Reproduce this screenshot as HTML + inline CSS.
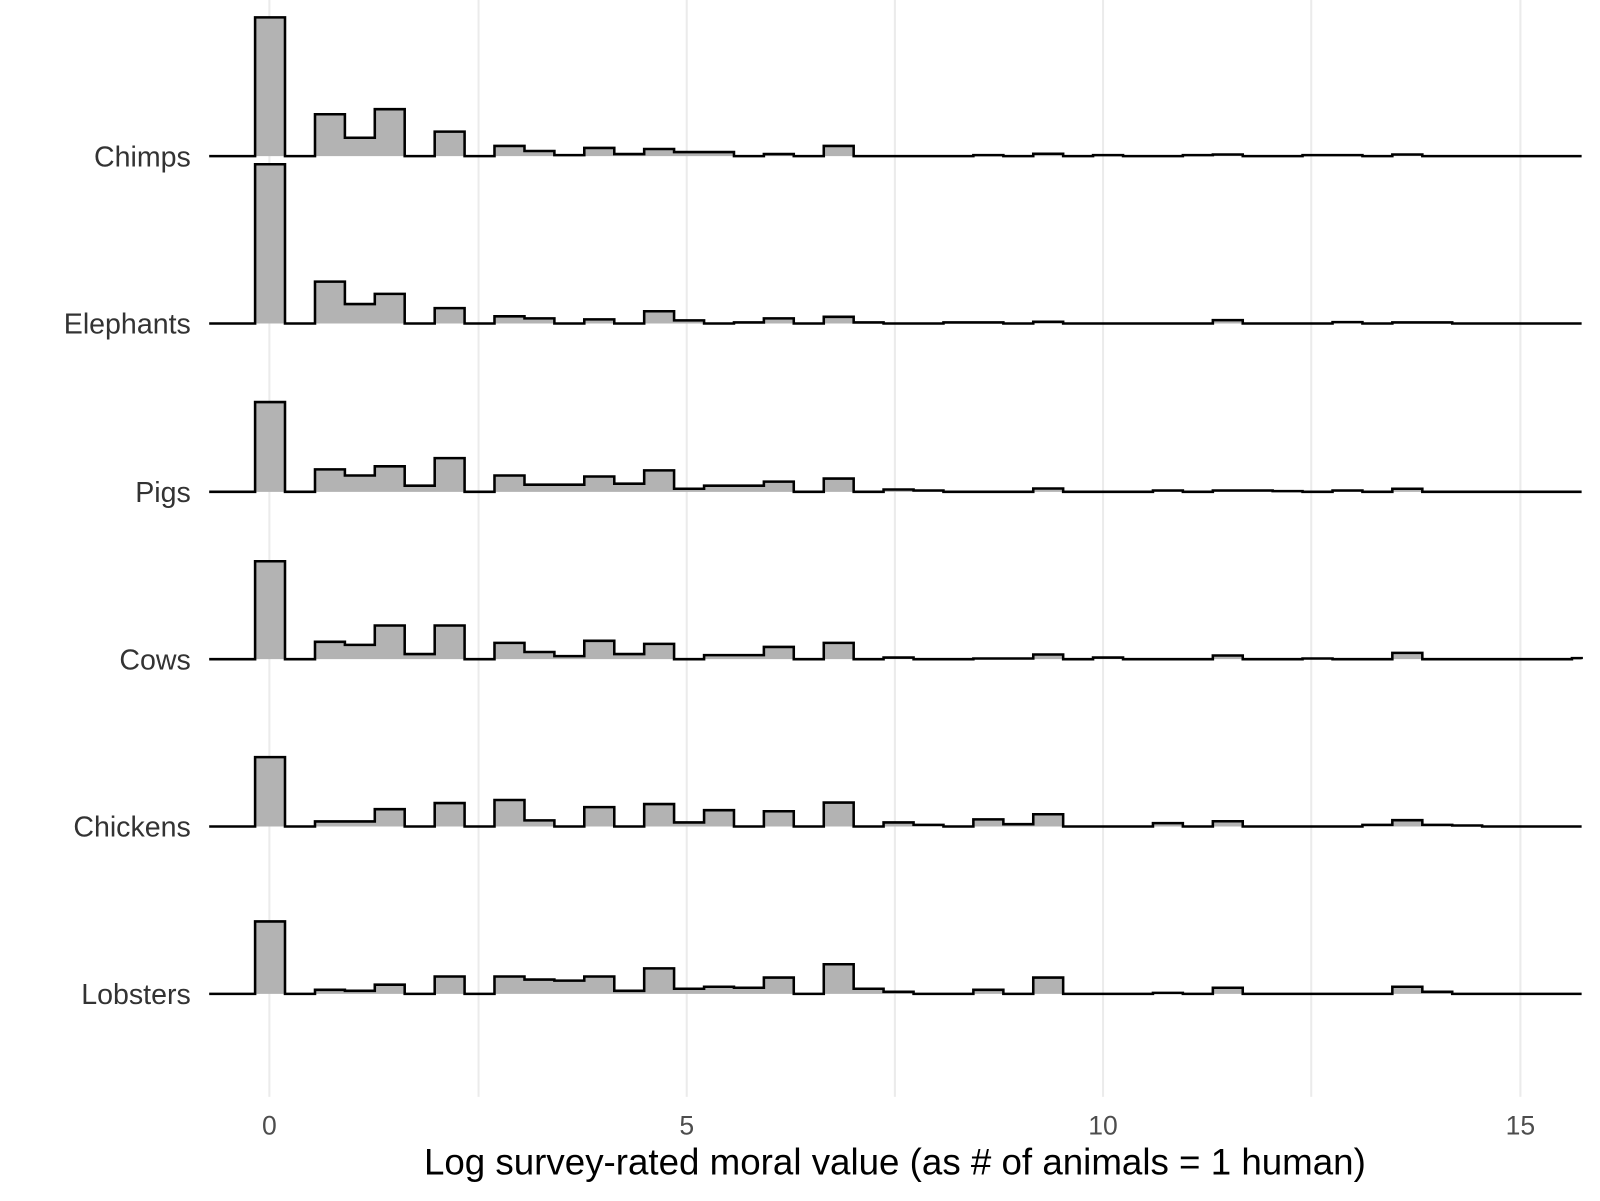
<!DOCTYPE html>
<html><head><meta charset="utf-8"><style>
html,body{margin:0;padding:0;background:#fff;}
svg{display:block;font-family:"Liberation Sans",Arial,sans-serif;}
</style></head><body>
<svg id="s" width="1600" height="1201" viewBox="0 0 1600 1201" xmlns="http://www.w3.org/2000/svg">
<rect width="1600" height="1201" fill="#fff"/>
<g transform="scale(1.0204)">
<g stroke="#ebebeb" stroke-width="2">
<line x1="264" y1="0" x2="264" y2="1075"/><line x1="469" y1="0" x2="469" y2="1075"/>
<line x1="673" y1="0" x2="673" y2="1075"/><line x1="877" y1="0" x2="877" y2="1075"/>
<line x1="1081" y1="0" x2="1081" y2="1075"/><line x1="1285" y1="0" x2="1285" y2="1075"/>
<line x1="1490" y1="0" x2="1490" y2="1075"/>
</g>
<g id="ridges"></g>
<g font-size="28" fill="#333" text-anchor="end">
<text x="187" y="163">Chimps</text><text x="187" y="327">Elephants</text>
<text x="187" y="492">Pigs</text><text x="187" y="656">Cows</text>
<text x="187" y="820">Chickens</text><text x="187" y="984">Lobsters</text>
</g>
<g font-size="26" fill="#4d4d4d" text-anchor="middle">
<text x="264" y="1112">0</text><text x="673" y="1112">5</text>
<text x="1081" y="1112">10</text><text x="1490" y="1112">15</text>
</g>
<text x="877" y="1151" font-size="36" text-anchor="middle" fill="#000">Log survey-rated moral value (as # of animals = 1 human)</text>
</g>
</svg>
<script>
var data=[
[153,{0:17,2:112,3:135,4:107,6:129,8:143,9:148,10:152,11:145,12:151,13:146,14:149,15:149,17:151,19:143,24:152,26:150.7,28:152,31:152,32:151.4,35:152,36:152,38:151.4}],
[317,{0:161,2:276,3:298,4:288,6:302,8:310,9:312,11:313,13:305,14:314,16:316,17:312,19:310.5,20:316,23:316,24:316,26:315.4,32:313.7,36:315.7,38:316,39:316}],
[482,{0:394,2:460,3:466,4:457,5:476,6:449,8:466,9:475,10:475,11:467,12:474,13:461,14:479,15:476,16:476,17:472,19:469,21:479.7,22:480.7,26:478.7,30:480.7,32:480.7,33:480.7,34:481.3,36:480.7,38:479}],
[646,{0:550,2:629,3:632,4:613,5:641,6:613,8:630,9:639,10:643,11:628,12:641,13:631,15:642,16:642,17:634,19:630,21:644.4,24:645.3,25:645.3,26:641.4,28:644.4,32:642.4,35:645.3,38:639.8,44:645}],
[810,{0:742,2:805,3:805,4:793,6:787,8:784,9:804,11:791,13:788,14:806,15:794,17:795,19:786.5,21:806,22:808.4,24:803,25:807.7,26:798,30:806.7,32:804.8,37:808.4,38:803.8,39:808.4,40:809}],
[974,{0:903,2:970,3:971,4:965,6:957,8:957,9:960,10:961,11:957,12:971,13:949,14:969,15:967,16:968,17:958,19:945,20:969,21:972,24:970,26:958,30:973,32:968,38:967,39:972}]
];
var g=document.getElementById('ridges'),h='',w=29.33;
data.forEach(function(r){
 var b=r[0],m=r[1],d='M205,'+b+' L250,'+b;
 for(var k=0;k<45;k++){var x0=250+w*k,x1=x0+w,y=(m[k]!==undefined?m[k]:b);
  if(x0>=1550)break;
  d+=' L'+x0.toFixed(1)+','+y+' L'+Math.min(x1,1550).toFixed(1)+','+y;}
 d+=' L1550,'+b;
 h+='<path d="'+d+' Z" fill="#b3b3b3" stroke="none"/>';
 h+='<path d="'+d+'" fill="none" stroke="#000" stroke-width="2.5"/>';
});
g.innerHTML=h;
</script>
</body></html>
